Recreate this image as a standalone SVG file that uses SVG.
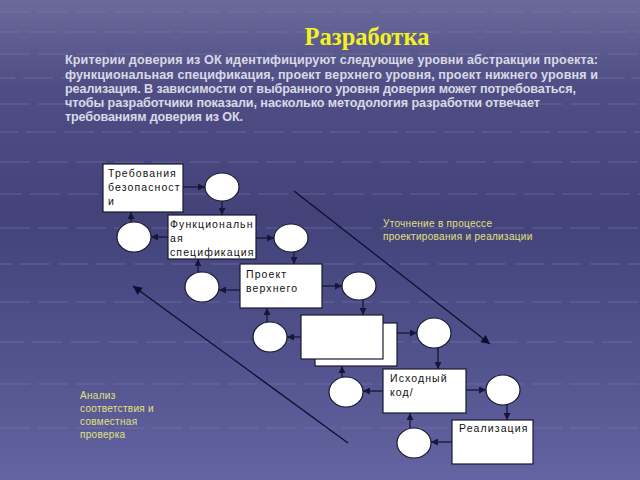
<svg xmlns="http://www.w3.org/2000/svg" width="640" height="480" viewBox="0 0 640 480">
<defs>
<linearGradient id="bg" x1="0" y1="0" x2="0" y2="1">
<stop offset="0" stop-color="#6a6a9c"/>
<stop offset="0.18" stop-color="#4e4e84"/>
<stop offset="0.45" stop-color="#43437a"/>
<stop offset="0.75" stop-color="#52528e"/>
<stop offset="1" stop-color="#6464a2"/>
</linearGradient>
<marker id="ah" viewBox="0 0 10 10" refX="10" refY="5" markerWidth="7" markerHeight="7" markerUnits="userSpaceOnUse" orient="auto">
<path d="M0,0 L10,5 L0,10 z" fill="#16163a"/>
</marker>
<marker id="ah2" viewBox="0 0 10 10" refX="10" refY="5" markerWidth="9" markerHeight="9" markerUnits="userSpaceOnUse" orient="auto">
<path d="M0,0 L10,5 L0,10 z" fill="#0e0e2c"/>
</marker>
</defs>
<style>
.box{fill:#ffffff;stroke:#1a1a30;stroke-width:1.2}
.circ{fill:#ffffff;stroke:#1a1a30;stroke-width:1.2}
.lbl{font-family:"Liberation Sans",Arial,sans-serif;font-size:10.5px;fill:#111111;letter-spacing:1.1px}
.con{stroke:#16163a;stroke-width:1.3;fill:none;marker-end:url(#ah)}
.diag{stroke:#0e0e2c;stroke-width:1.3;fill:none;marker-end:url(#ah2)}
.note{font-family:"Liberation Sans",Arial,sans-serif;font-size:10px;fill:#e2e27a;letter-spacing:0.3px}
.para{font-family:"Liberation Sans",Arial,sans-serif;font-size:12.6px;font-weight:bold;fill:#d9d9e6}
.grid{stroke:#8080b4;stroke-opacity:0.35;stroke-width:1.5;stroke-dasharray:30 8}
</style>
<rect width="640" height="480" fill="url(#bg)"/>
<g id="background-pattern">
<line class="grid" x1="0" y1="12" x2="640" y2="12"/>
<line class="grid" x1="-10" y1="32" x2="640" y2="32"/>
<line class="grid" x1="0" y1="54" x2="640" y2="54"/>
<line class="grid" x1="-15" y1="78" x2="640" y2="78"/>
<line class="grid" x1="0" y1="104" x2="640" y2="104"/>
<line class="grid" x1="-12" y1="132" x2="640" y2="132"/>
<line class="grid" x1="0" y1="162" x2="640" y2="162"/>
<line class="grid" x1="-8" y1="194" x2="640" y2="194"/>
<line class="grid" x1="0" y1="228" x2="640" y2="228"/>
<line class="grid" x1="-18" y1="264" x2="640" y2="264"/>
<line class="grid" x1="0" y1="302" x2="640" y2="302"/>
<line class="grid" x1="-6" y1="342" x2="640" y2="342" stroke-dasharray="60 10"/>
<line class="grid" x1="0" y1="384" x2="640" y2="384" stroke-dasharray="80 12"/>
<line class="grid" x1="0" y1="428" x2="640" y2="428" stroke-dasharray="100 14"/>
</g>
<text x="367" y="45" text-anchor="middle" font-family="Liberation Serif,'Times New Roman',serif" font-size="24.5" font-weight="bold" fill="#f2f222">Разработка</text>
<g id="intro-text">
<text x="65" y="64" class="para" textLength="533">Критерии доверия из ОК идентифицируют следующие уровни абстракции проекта:</text>
<text x="65" y="79" class="para" textLength="533">функциональная спецификация, проект верхнего уровня, проект нижнего уровня и</text>
<text x="65" y="93" class="para" textLength="511">реализация. В зависимости от выбранного уровня доверия может потребоваться,</text>
<text x="65" y="107" class="para" textLength="475">чтобы разработчики показали, насколько методология разработки отвечает</text>
<text x="65" y="121" class="para" textLength="178">требованиям доверия из ОК.</text>
</g>
<g id="connectors">
<line class="con" x1="183" y1="187" x2="205" y2="187"/>
<line class="con" x1="222" y1="200" x2="222" y2="215"/>
<line class="con" x1="168" y1="237" x2="151" y2="237"/>
<line class="con" x1="131" y1="222" x2="131" y2="212"/>
<line class="con" x1="254" y1="238" x2="274" y2="238"/>
<line class="con" x1="294" y1="252" x2="294" y2="264"/>
<line class="con" x1="240" y1="290" x2="219" y2="290"/>
<line class="con" x1="198" y1="272" x2="198" y2="259"/>
<line class="con" x1="322" y1="286" x2="342" y2="286"/>
<line class="con" x1="363" y1="300" x2="363" y2="315" stroke-width="0.8"/>
<line class="con" x1="301" y1="337" x2="287" y2="337" stroke-width="0.8"/>
<line class="con" x1="267" y1="322" x2="267" y2="308"/>
<line class="con" x1="397" y1="333" x2="417" y2="333" stroke-width="0.8"/>
<line class="con" x1="438" y1="348" x2="438" y2="369"/>
<line class="con" x1="383" y1="391" x2="363" y2="391" stroke-width="0.8"/>
<line class="con" x1="342" y1="377" x2="342" y2="366"/>
<line class="con" x1="466" y1="390" x2="486" y2="390"/>
<line class="con" x1="507" y1="405" x2="507" y2="420"/>
<line class="con" x1="452" y1="442" x2="431" y2="442"/>
<line class="con" x1="410" y1="428" x2="410" y2="413"/>
<line class="diag" x1="294" y1="191" x2="490" y2="344"/>
<line class="diag" x1="348" y1="443" x2="133" y2="286"/>
</g>
<g id="n-req"><rect class="box" x="103" y="164" width="80" height="48"/>
<text class="lbl" x="108" y="177">Требования</text><text class="lbl" x="108" y="191">безопасност</text><text class="lbl" x="108" y="205">и</text></g>
<g id="c1"><ellipse class="circ" cx="222" cy="187" rx="17" ry="14"/></g>
<g id="n-func"><rect class="box" x="168" y="215" width="88" height="44"/>
<text class="lbl" x="170" y="228">Функциональн</text><text class="lbl" x="170" y="242">ая</text><text class="lbl" x="170" y="256">спецификация</text></g>
<g id="c2"><ellipse class="circ" cx="134" cy="237" rx="17" ry="15"/></g>
<g id="c3"><ellipse class="circ" cx="291" cy="238" rx="17" ry="14"/></g>
<g id="n-hld"><rect class="box" x="240" y="264" width="82" height="44"/>
<text class="lbl" x="246" y="278">Проект</text><text class="lbl" x="246" y="292">верхнего</text></g>
<g id="c4"><ellipse class="circ" cx="202" cy="287" rx="17" ry="15"/></g>
<g id="c5"><ellipse class="circ" cx="359" cy="286" rx="17" ry="14"/></g>
<g id="n-lld"><rect class="box" x="315" y="323" width="82" height="43"/><rect class="box" x="301" y="315" width="82" height="44"/></g>
<g id="c6"><ellipse class="circ" cx="270" cy="337" rx="17" ry="15"/></g>
<g id="c7"><ellipse class="circ" cx="434" cy="333" rx="17" ry="15"/></g>
<g id="n-src"><rect class="box" x="383" y="369" width="83" height="44"/>
<text class="lbl" x="390" y="382">Исходный</text><text class="lbl" x="390" y="396">код/</text></g>
<g id="c8"><ellipse class="circ" cx="346" cy="392" rx="17" ry="15"/></g>
<g id="c9"><ellipse class="circ" cx="503" cy="390" rx="17" ry="15"/></g>
<g id="n-impl"><rect class="box" x="452" y="420" width="81" height="44"/>
<text class="lbl" x="459" y="432">Реализация</text></g>
<g id="c10"><ellipse class="circ" cx="414" cy="443" rx="17" ry="15"/></g>
<g id="notes">
<text class="note" x="383" y="227">Уточнение в процессе</text>
<text class="note" x="383" y="240">проектирования и реализации</text>
<text class="note" x="80" y="399">Анализ</text>
<text class="note" x="80" y="412">соответствия и</text>
<text class="note" x="80" y="425">совместная</text>
<text class="note" x="80" y="438">проверка</text>
</g>
</svg>
